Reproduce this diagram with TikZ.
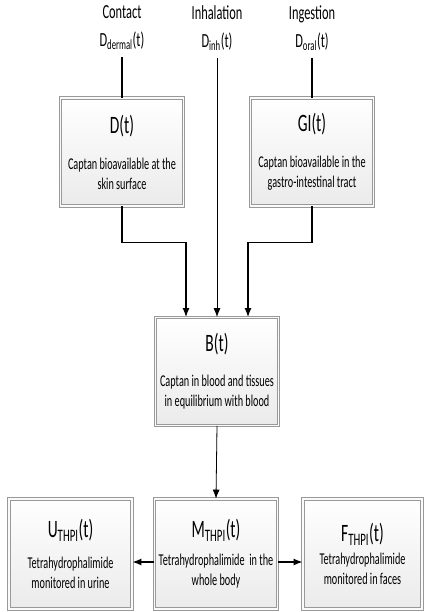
\documentclass[tikz,border=0pt]{standalone}
\usepackage{fontspec}
\setmainfont[FakeStretch=0.62]{Carlito}
\usepackage{xcolor}
\usetikzlibrary{arrows.meta}

\newcommand{\boxtitle}{\fontsize{25}{27}\selectfont}
\newcommand{\boxtext}{\fontsize{16.5}{20}\selectfont}

\begin{document}
\begin{tikzpicture}[x=1pt,y=-1pt,
		box/.style={preaction={top color=white, bottom color=gray!16},
			draw=gray!80, double=gray!4, double distance=1.5pt, line width=0.8pt,
			minimum width=123pt, minimum height=108pt,
			align=center, inner sep=2pt, font=\boxtext},
		src/.style={align=center, font=\fontsize{20}{28}\selectfont, inner sep=2pt},
		route/.style={line width=1.4pt, -{Latex[length=9pt,width=7pt]}},
		thinroute/.style={line width=0.8pt, -{Latex[length=9pt,width=7pt]}}]
	\useasboundingbox (0,0) rectangle (424,612);

	\node[src] (contact) at (122,28) {Contact\\D\textsubscript{dermal}(t)};
	\node[src] (inh) at (217,28) {Inhalation\\D\textsubscript{inh}(t)};
	\node[src] (ing) at (312,28) {Ingestion\\D\textsubscript{oral}(t)};

	\node[box] (d) at (122,152) {{\boxtitle D(t)}\\[16pt] Captan bioavailable at the\\ skin surface};
	\node[box] (gi) at (312,152) {{\boxtitle GI(t)}\\[16pt] Captan bioavailable in the\\ gastro-intestinal tract};
	\node[box] (b) at (217,371.5) {{\boxtitle B(t)}\\[15pt] Captan in blood and tissues\\ in equilibrium with blood};

	\node[box, minimum height=110pt] (m) at (216,554) {{\boxtitle M\textsubscript{THPI}(t)}\\[8pt] Tetrahydrophalimide\ \ in the\\ whole body};
	\node[box, minimum height=110pt] (u) at (70.5,554) {{\boxtitle U\textsubscript{THPI}(t)}\\[11pt] Tetrahydrophalimide\\ monitored in urine};
	\node[box, minimum height=110pt, minimum width=119pt] (f) at (362.5,554) {{\boxtitle F\textsubscript{THPI}(t)}\\[3pt] Tetrahydrophalimide\\ monitored in faces};

	\draw[line width=1.2pt, shorten <=5pt] (contact.south) -- (d.north);
	\draw[line width=1.2pt, shorten <=5pt] (ing.south) -- (gi.north);
	\draw[thinroute, shorten <=5pt] (inh.south) -- (b.north);
	\draw[route] (d.south) -- ++(0,36) -| ([xshift=-31pt]b.north);
	\draw[route] (gi.south) -- ++(0,36) -| ([xshift=31pt]b.north);
	\draw[thinroute] (b.south) -- (m.north);
	\draw[route] ([yshift=-8pt]m.west) -- ([yshift=-8pt]u.east);
	\draw[route] ([yshift=-8pt]m.east) -- ([yshift=-8pt]f.west);
\end{tikzpicture}
\end{document}
